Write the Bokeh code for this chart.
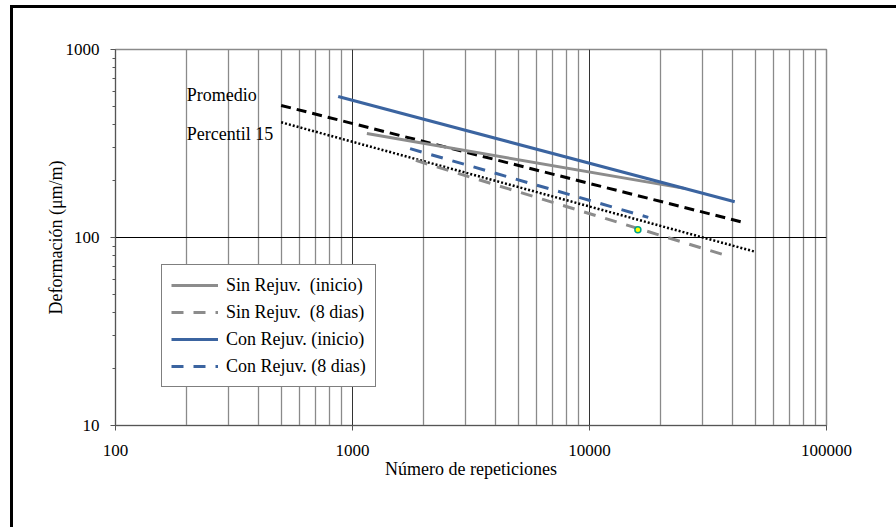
from bokeh.plotting import figure
from bokeh.models import FixedTicker, Legend, LegendItem, NumeralTickFormatter
from bokeh.core.properties import value
from bokeh.embed import file_html
from bokeh.resources import INLINE

# ---- data ----
x_major = [100, 1000, 10000, 100000]
x_minor = [200, 300, 400, 500, 600, 700, 800, 900,
           2000, 3000, 4000, 5000, 6000, 7000, 8000, 9000,
           20000, 30000, 40000, 50000, 60000, 70000, 80000, 90000]
y_major = [10, 100, 1000]
y_minor = [20, 30, 40, 50, 60, 70, 80, 90, 200, 300, 400, 500, 600, 700, 800, 900]

promedio_n = [500, 45000]
promedio_d = [504, 120]
percentil_n = [500, 50000]
percentil_d = [410, 84]
sin_ini_n = [1150, 25500]
sin_ini_d = [357, 182]
sin_8_n = [1850, 38000]
sin_8_d = [257, 80]
con_ini_n = [870, 41000]
con_ini_d = [562, 155]
con_8_n = [1750, 17700]
con_8_d = [297, 128]
punto_n = [16000]
punto_d = [110]

label_names = ["Promedio", "Percentil 15"]
label_n = [200, 200]
label_d = [570, 357]

legend_labels = ["Sin Rejuv.  (inicio)", "Sin Rejuv.  (8 dias)",
                 "Con Rejuv. (inicio)", "Con Rejuv. (8 dias)"]

FONT = "Liberation Serif"
GRAY = "#8C8C8C"
BLUE = "#3B64A0"
GRID = "#8A8A8A"

p = figure(width=883, height=519, x_axis_type="log", y_axis_type="log",
           x_range=(100, 100000), y_range=(10, 1000),
           output_backend="svg", toolbar_location=None,
           min_border_left=102, min_border_top=41,
           min_border_right=70, min_border_bottom=102)
p.styles = {"border-top": "3px solid black", "border-left": "3px solid black",
            "margin-left": "10px", "margin-top": "5px"}
p.frame_width = 711
p.frame_height = 376
p.outline_line_color = GRID
p.outline_line_width = 1.5
p.background_fill_color = "white"
p.border_fill_color = "white"

# axes
p.xaxis.ticker = FixedTicker(ticks=x_major, minor_ticks=x_minor)
p.yaxis.ticker = FixedTicker(ticks=y_major, minor_ticks=y_minor)
p.xaxis.formatter = NumeralTickFormatter(format="0")
p.yaxis.formatter = NumeralTickFormatter(format="0")
for ax in (p.xaxis, p.yaxis):
    ax.major_label_text_font = FONT
    ax.major_label_text_font_size = "17px"
    ax.major_label_text_color = "black"
    ax.axis_label_text_font = FONT
    ax.axis_label_text_font_size = "18px"
    ax.axis_label_text_font_style = "normal"
    ax.axis_label_text_color = "black"
    ax.axis_line_color = "#555555"
    ax.major_tick_line_color = "#555555"
    ax.minor_tick_line_color = "#555555"
    ax.major_tick_in = 0
    ax.major_tick_out = 5
    ax.minor_tick_in = 0
p.xaxis.minor_tick_out = 0
p.yaxis.minor_tick_out = 3
p.xaxis.axis_label = "Número de repeticiones"
p.yaxis.axis_label = "Deformación (μm/m)"
p.xaxis.major_label_standoff = 14
p.yaxis.major_label_standoff = 11
p.xaxis.axis_label_standoff = 0
p.yaxis.axis_label_standoff = -3

# grids
p.xgrid.grid_line_color = "#333333"
p.xgrid.grid_line_width = 1
p.xgrid.minor_grid_line_color = GRID
p.xgrid.minor_grid_line_width = 1.3
p.ygrid.grid_line_color = "black"
p.ygrid.grid_line_width = 1
p.ygrid.minor_grid_line_color = None

# lines
r_prom = p.line(promedio_n, promedio_d, line_color="black", line_width=3, line_dash="10 6")
r_perc = p.line(percentil_n, percentil_d, line_color="black", line_width=2.5, line_dash="2 2")
r_sin_ini = p.line(sin_ini_n, sin_ini_d, line_color=GRAY, line_width=3)
r_sin_8 = p.line(sin_8_n, sin_8_d, line_color=GRAY, line_width=3, line_dash="12 10")
r_con_ini = p.line(con_ini_n, con_ini_d, line_color=BLUE, line_width=3)
r_con_8 = p.line(con_8_n, con_8_d, line_color=BLUE, line_width=3, line_dash="12 10")
p.scatter(punto_n, punto_d, size=6, fill_color="#FFFF00", line_color="#00A087", line_width=1.5)

p.text(x=label_n, y=label_d, text=label_names, text_font=value(FONT),
       text_font_size="18px", text_baseline="middle", text_align="left",
       text_color="black")

legend = Legend(items=[
    LegendItem(label=legend_labels[0], renderers=[r_sin_ini]),
    LegendItem(label=legend_labels[1], renderers=[r_sin_8]),
    LegendItem(label=legend_labels[2], renderers=[r_con_ini]),
    LegendItem(label=legend_labels[3], renderers=[r_con_8]),
], location=(46, 38))
legend.label_text_font = FONT
legend.label_text_font_size = "18px"
legend.label_text_color = "black"
legend.glyph_width = 47
legend.glyph_height = 20
legend.label_height = 22
legend.spacing = 5
legend.padding = 9
legend.margin = 0
legend.label_standoff = 8
legend.border_line_color = "black"
legend.border_line_width = 1
legend.background_fill_color = "white"
legend.background_fill_alpha = 1
p.add_layout(legend, "center")

open("out.html", "w").write(file_html(p, INLINE))
